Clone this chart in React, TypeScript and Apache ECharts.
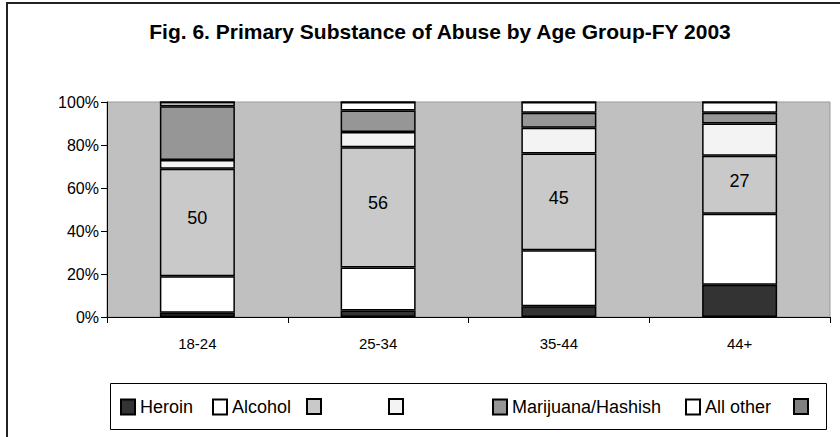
import React, { useEffect, useRef } from "react";
import * as echarts from "echarts";

const categories = ["18-24", "25-34", "35-44", "44+"];
const heroin = [2, 3, 5, 15];
const alcohol = [17, 20, 26, 33];
const series3 = [50, 56, 45, 27];
const series4 = [4, 7, 12, 15];
const marijuana = [25, 10, 7, 5];
const allOther = [2, 4, 5, 5];
const series7 = [0, 0, 0, 0];
const yTicks = [0, 20, 40, 60, 80, 100];

const FONT = '"Liberation Sans", Arial, sans-serif';

export default function App() {
  const ref = useRef<HTMLDivElement>(null);
  useEffect(() => {
    if (!ref.current) return;
    const chart = echarts.init(ref.current, undefined, { renderer: "svg" });
    const seriesDefs = [
      { key: "Heroin", label: "Heroin", data: heroin, color: "#333333" },
      { key: "Alcohol", label: "Alcohol", data: alcohol, color: "#FFFFFF" },
      { key: "s3", label: "", data: series3, color: "#C9C9C9", showLabel: true },
      { key: "s4", label: "", data: series4, color: "#F3F3F3" },
      { key: "Marijuana/Hashish", label: "Marijuana/Hashish", data: marijuana, color: "#969696" },
      { key: "All other", label: "All other", data: allOther, color: "#FFFFFF" },
      { key: "s7", label: "", data: series7, color: "#808080" },
    ];
    const legendX = [120, 212, 306, 388, 492, 685, 793];
    const labelMap: Record<string, string> = {};
    seriesDefs.forEach((s) => (labelMap[s.key] = s.label));

    chart.setOption({
      animation: false,
      backgroundColor: "#FFFFFF",
      textStyle: { fontFamily: FONT },
      grid: {
        left: 107,
        right: 10,
        top: 102,
        bottom: 120,
        show: true,
        backgroundColor: "#C0C0C0",
        borderColor: "#999999",
        borderWidth: 1,
      },
      xAxis: {
        type: "category",
        data: categories,
        axisLine: { show: true, lineStyle: { color: "#000", width: 1 } },
        axisTick: { show: true, length: 6, alignWithLabel: false, lineStyle: { color: "#000" } },
        axisLabel: { fontSize: 15, color: "#000", margin: 19, fontFamily: FONT },
        splitLine: { show: false },
      },
      yAxis: {
        type: "value",
        min: yTicks[0],
        max: yTicks[yTicks.length - 1],
        interval: 20,
        axisLine: { show: true, lineStyle: { color: "#000", width: 1 } },
        axisTick: { show: true, length: 6, lineStyle: { color: "#000" } },
        axisLabel: { fontSize: 16, color: "#000", margin: 8, formatter: "{value}%", fontFamily: FONT },
        splitLine: { show: false },
      },
      legend: seriesDefs.map((s, i) => ({
        data: [s.key],
        left: legendX[i],
        top: 398,
        itemWidth: 14,
        itemHeight: 15,
        itemGap: 0,
        padding: 0,
        icon: "rect",
        selectedMode: false,
        formatter: (name: string) => labelMap[name],
        textStyle: { fontSize: 18, color: "#000", fontFamily: FONT },
      })),
      graphic: [
        {
          type: "polyline",
          shape: { points: [[7, 440], [7, 3], [845, 3]] },
          style: { stroke: "#222", lineWidth: 2, fill: "none" },
          silent: true,
        },
        {
          type: "rect",
          shape: { x: 110.5, y: 383.5, width: 716, height: 46 },
          style: { stroke: "#000", lineWidth: 1, fill: "#fff" },
          z: -1,
          silent: true,
        },
        {
          type: "text",
          x: 440,
          y: 31,
          style: {
            text: "Fig. 6. Primary Substance of Abuse by Age Group-FY 2003",
            font: `bold 21px ${FONT}`,
            fill: "#000",
            textAlign: "center",
            textVerticalAlign: "middle",
          },
          silent: true,
        },
      ],
      series: seriesDefs.map((s) => ({
        name: s.key,
        type: "bar",
        stack: "total",
        barWidth: "41.5%",
        data: s.data,
        itemStyle: { color: s.color, borderColor: "#000", borderWidth: 1.5 },
        label: s.showLabel
          ? { show: true, position: "inside", fontSize: 18, color: "#000", offset: [0, -4], fontFamily: FONT }
          : { show: false },
        emphasis: { disabled: true },
      })),
    });
    return () => chart.dispose();
  }, []);
  return (
    <div
      ref={ref}
      style={{ position: "fixed", left: 0, top: 0, width: 840, height: 437 }}
    />
  );
}
